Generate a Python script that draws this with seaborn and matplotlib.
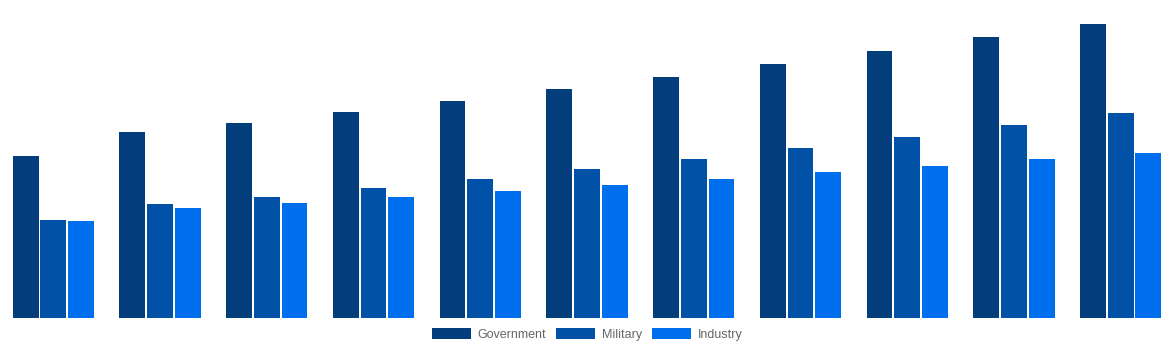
import numpy as np
import pandas as pd
import matplotlib
matplotlib.use("Agg")
import matplotlib.pyplot as plt
import seaborn as sns

# Eleven periods, three funding sectors
periods = ["P1", "P2", "P3", "P4", "P5", "P6", "P7", "P8", "P9", "P10", "P11"]
government = [162, 186, 195, 206, 217, 229, 241, 254, 267, 281, 294]
military = [98, 114, 121, 130, 139, 149, 159, 170, 181, 193, 205]
industry = [97, 110, 115, 121, 127, 133, 139, 146, 152, 159, 165]

sectors = ["Government", "Military", "Industry"]
palette = ["#033d7b", "#0152a6", "#006fee"]

df = pd.DataFrame({
    "period": periods * 3,
    "sector": np.repeat(sectors, len(periods)),
    "value": government + military + industry,
})

sns.set_theme(style="white")
plt.rcParams["font.family"] = ["Liberation Sans", "DejaVu Sans"]

fig = plt.figure(figsize=(11.74, 3.5), dpi=100)
base = 317.7
ax = fig.add_axes([0, (350 - base) / 350, 1, base / 350])

sns.barplot(data=df, x="period", y="value", hue="sector", hue_order=sectors,
            palette=palette, width=0.78, gap=0.07, linewidth=0,
            saturation=1, ax=ax, legend=True)

ax.set_ylim(0, base)
ax.set_xlim(-0.5, len(periods) - 0.5)
ax.axis("off")

handles, labels = ax.get_legend_handles_labels()
ax.get_legend().remove()
fig.legend(handles, labels, loc="center", bbox_to_anchor=(0.5, 15.5 / 350),
           ncol=3, frameon=False, fontsize=9, labelcolor="#666666",
           handlelength=3.1, handleheight=0.9, handletextpad=0.55,
           columnspacing=0.8, borderpad=0, borderaxespad=0)

fig.savefig("out.png", dpi=100)
